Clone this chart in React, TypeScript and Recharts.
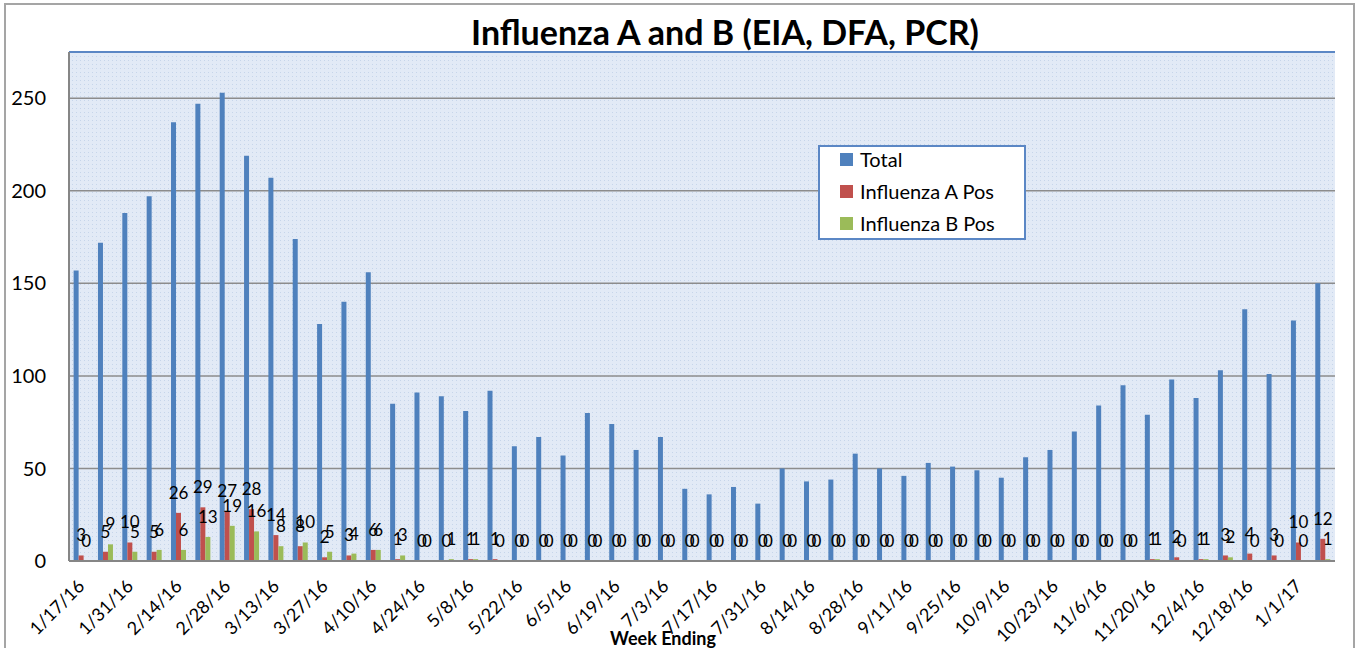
import { BarChart, Bar, XAxis, YAxis, CartesianGrid, LabelList, ReferenceLine } from 'recharts'

const weeks = [
  '1/17/16', '1/24/16', '1/31/16', '2/7/16', '2/14/16', '2/21/16', '2/28/16', '3/6/16', '3/13/16', '3/20/16',
  '3/27/16', '4/3/16', '4/10/16', '4/17/16', '4/24/16', '5/1/16', '5/8/16', '5/15/16', '5/22/16', '5/29/16',
  '6/5/16', '6/12/16', '6/19/16', '6/26/16', '7/3/16', '7/10/16', '7/17/16', '7/24/16', '7/31/16', '8/7/16',
  '8/14/16', '8/21/16', '8/28/16', '9/4/16', '9/11/16', '9/18/16', '9/25/16', '10/2/16', '10/9/16', '10/16/16',
  '10/23/16', '10/30/16', '11/6/16', '11/13/16', '11/20/16', '11/27/16', '12/4/16', '12/11/16', '12/18/16', '12/25/16',
  '1/1/17', '1/8/17',
]

const total = [
  157, 172, 188, 197, 237, 247, 253, 219, 207, 174,
  128, 140, 156, 85, 91, 89, 81, 92, 62, 67,
  57, 80, 74, 60, 67, 39, 36, 40, 31, 50,
  43, 44, 58, 50, 46, 53, 51, 49, 45, 56,
  60, 70, 84, 95, 79, 98, 88, 103, 136, 101,
  130, 150,
]

const fluA = [
  3, 5, 10, 5, 26, 29, 27, 28, 14, 8,
  2, 3, 6, 1, 0, 0, 1, 1, 0, 0,
  0, 0, 0, 0, 0, 0, 0, 0, 0, 0,
  0, 0, 0, 0, 0, 0, 0, 0, 0, 0,
  0, 0, 0, 0, 1, 2, 1, 3, 4, 3,
  10, 12,
]

const fluB = [
  0, 9, 5, 6, 6, 13, 19, 16, 8, 10,
  5, 4, 6, 3, 0, 1, 1, 0, 0, 0,
  0, 0, 0, 0, 0, 0, 0, 0, 0, 0,
  0, 0, 0, 0, 0, 0, 0, 0, 0, 0,
  0, 0, 0, 0, 1, 0, 1, 2, 0, 0,
  0, 1,
]

const yTicks = [0, 50, 100, 150, 200, 250]

const series = [
  { key: 'total', name: 'Total', color: '#4f81bd' },
  { key: 'a', name: 'Influenza A Pos', color: '#c0504d' },
  { key: 'b', name: 'Influenza B Pos', color: '#9bbb59' },
]

const data = weeks.map((week, i) => ({ week, total: total[i], a: fluA[i], b: fluB[i] }))

const FONT = 'Lato, "Open Sans", sans-serif'

function WeekTick({ x, y, payload }: any) {
  return (
    <g transform={`translate(${x},${y + 22})`}>
      <text textAnchor="end" dy="0.35em" transform="rotate(-45)" fontSize={18} fontFamily={FONT} fill="#000">
        {payload.value}
      </text>
    </g>
  )
}

function LegendBox() {
  return (
    <div style={{
      position: 'absolute', left: 818, top: 145, width: 208, height: 95, background: '#fff',
      border: '2px solid #5b87c5', boxSizing: 'border-box', padding: '0 0 0 20px',
      fontFamily: FONT, fontSize: 20, color: '#000',
    }}>
      <div style={{ marginTop: -4 }}>
        {series.map(s => (
          <div key={s.key} style={{ display: 'flex', alignItems: 'center', height: 32 }}>
            <span style={{ width: 13, height: 13, background: s.color, marginRight: 7 }} />
            {s.name}
          </div>
        ))}
      </div>
    </div>
  )
}

export default function App() {
  return (
    <div style={{ position: 'absolute', left: 0, top: 0, width: 1363, height: 648, background: '#fff', overflow: 'hidden' }}>
      <div style={{
        position: 'absolute', left: 4, top: 3, width: 1351, height: 700,
        border: '2px solid #a5a5a5', boxSizing: 'border-box',
      }} />
      <div style={{
        position: 'absolute', left: 0, top: 10, width: 1450, textAlign: 'center',
        fontFamily: FONT, fontWeight: 700, fontSize: 34, color: '#000', lineHeight: '44px',
      }}>
        Influenza A and B (EIA, DFA, PCR)
      </div>
      <BarChart
        width={1363}
        height={648}
        data={data}
        margin={{ top: 52, right: 28, bottom: 0, left: 0 }}
        barCategoryGap="19%"
        barGap={0}
        style={{ position: 'absolute', left: 0, top: 0 }}
      >
        <defs>
          <pattern id="dots" width="4" height="4" patternUnits="userSpaceOnUse">
            <rect width="4" height="4" fill="#e2eaf6" />
            <rect width="1" height="1" fill="#c6d5ea" />
          </pattern>
        </defs>
        <CartesianGrid vertical={false} fill="url(#dots)" stroke="#8c8c8c" strokeWidth={1.5} />
        <XAxis
          dataKey="week"
          interval={1}
          tick={<WeekTick />}
          tickLine={false}
          tickSize={0}
          tickMargin={0}
          height={87}
          axisLine={{ stroke: '#868686', strokeWidth: 2 }}
          label={{
            value: 'Week Ending', position: 'insideBottom', offset: 3, dx: -39,
            fontSize: 18, fontWeight: 700, fontFamily: FONT, fill: '#000',
          }}
        />
        <YAxis
          domain={[0, 275]}
          ticks={yTicks}
          width={69}
          tickLine={false}
          tickSize={0}
          tickMargin={23}
          axisLine={{ stroke: '#868686', strokeWidth: 2 }}
          tick={{ fontSize: 20, fontFamily: FONT, fill: '#000' }}
        />
        <YAxis
          yAxisId="right"
          orientation="right"
          width={0}
          domain={[0, 275]}
          tick={false}
          tickLine={false}
          axisLine={{ stroke: '#5b87c5', strokeWidth: 2 }}
        />
        <ReferenceLine y={275} stroke="#5b87c5" strokeWidth={2} />
        <Bar dataKey="total" name="Total" fill="#4f81bd" isAnimationActive={false} />
        <Bar dataKey="a" name="Influenza A Pos" fill="#c0504d" minPointSize={0.01} isAnimationActive={false}>
          <LabelList dataKey="a" position="top" offset={14} fontSize={17} fontFamily={FONT} fill="#000" />
        </Bar>
        <Bar dataKey="b" name="Influenza B Pos" fill="#9bbb59" minPointSize={0.01} isAnimationActive={false}>
          <LabelList dataKey="b" position="top" offset={14} fontSize={17} fontFamily={FONT} fill="#000" />
        </Bar>
      </BarChart>
      <LegendBox />
    </div>
  )
}
